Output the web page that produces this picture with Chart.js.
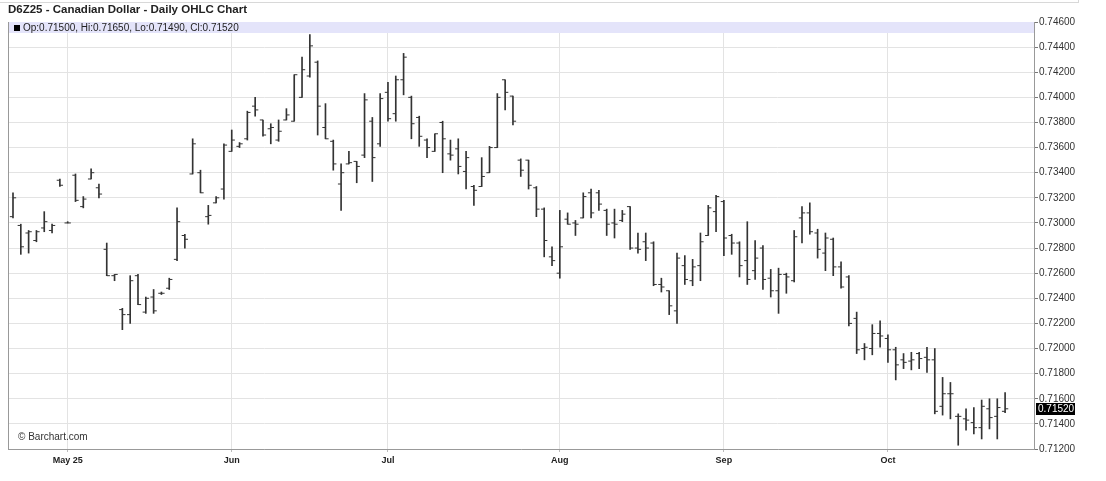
<!DOCTYPE html>
<html>
<head>
<meta charset="utf-8">
<script src="https://cdn.jsdelivr.net/npm/chart.js@4.4.1/dist/chart.umd.min.js"></script>
<style>
  html, body { margin: 0; padding: 0; background: #fff; }
  #wrap { position: relative; width: 1106px; height: 481px; font-family: Arial, "Liberation Sans", sans-serif; }
  #frame { position: absolute; left: 0; top: 0; width: 1078px; height: 2px; border-bottom: 1px solid #d8d8d8; border-right: 1px solid #d8d8d8; }
  #title { position: absolute; left: 8px; top: 3px; font-weight: bold; font-size: 11.5px; color: #222; }
  #credit { position: absolute; left: 18px; top: 431px; font-size: 10px; color: #333; }
  canvas { position: absolute; left: 0; top: 0; }
</style>
</head>
<body>
<div id="wrap">
  <canvas id="chart" width="1106" height="481"></canvas>
  <div id="frame"></div>
  <div id="title">D6Z25 - Canadian Dollar - Daily OHLC Chart</div>
  <div id="credit">© Barchart.com</div>
</div>
<script>
// daily bars, Apr 22 .. Oct 22 (trading days only)
const opens = [
  0.7305, 0.7298, 0.7292, 0.7286, 0.7296, 0.7294, 0.7334, 0.7300, 0.7338, 0.7313,
  0.7335, 0.7328, 0.7279, 0.7258, 0.7231, 0.7227, 0.7258, 0.7229, 0.7241, 0.7244,
  0.7248, 0.7271, 0.7290, 0.7339, 0.7340, 0.7305, 0.7316, 0.7327, 0.7357, 0.7361,
  0.7367, 0.7393, 0.7382, 0.7375, 0.7366, 0.7382, 0.7381, 0.7400, 0.7417, 0.7428,
  0.7376, 0.7365, 0.7331, 0.7347, 0.7349, 0.7354, 0.7381, 0.7363, 0.7404, 0.7387,
  0.7414, 0.7400, 0.7384, 0.7366, 0.7357, 0.7380, 0.7355, 0.7359, 0.7341, 0.7329,
  0.7329, 0.7340, 0.7360, 0.7414, 0.7401, 0.7350, 0.7350, 0.7328, 0.7311, 0.7273,
  0.7260, 0.7303, 0.7300, 0.7304, 0.7324, 0.7324, 0.7310, 0.7300, 0.7302, 0.7313,
  0.7280, 0.7285, 0.7284, 0.7251, 0.7246, 0.7230, 0.7266, 0.7254, 0.7266, 0.7290,
  0.7309, 0.7317, 0.7290, 0.7284, 0.7270, 0.7262, 0.7280, 0.7256, 0.7246, 0.7259,
  0.7254, 0.7304, 0.7308, 0.7292, 0.7276, 0.7287, 0.7265, 0.7257, 0.7224, 0.7200,
  0.7200, 0.7212, 0.7208, 0.7199, 0.7191, 0.7190, 0.7196, 0.7193, 0.7191, 0.7154,
  0.7164, 0.7146, 0.7144, 0.7141, 0.7137, 0.7152, 0.7146, 0.7150
];
const highs = [
  0.7324, 0.7299, 0.7294, 0.7294, 0.7309, 0.7299, 0.7335, 0.7301, 0.7339, 0.7321,
  0.7343, 0.7331, 0.7284, 0.7259, 0.7232, 0.7258, 0.7259, 0.7241, 0.7247, 0.7245,
  0.7256, 0.7312, 0.7291, 0.7367, 0.7342, 0.7314, 0.7321, 0.7363, 0.7374, 0.7364,
  0.7389, 0.7400, 0.7382, 0.7379, 0.7382, 0.7391, 0.7418, 0.7432, 0.7450, 0.7429,
  0.7395, 0.7366, 0.7347, 0.7357, 0.7349, 0.7403, 0.7384, 0.7403, 0.7412, 0.7417,
  0.7435, 0.7401, 0.7385, 0.7367, 0.7371, 0.7381, 0.7366, 0.7367, 0.7357, 0.7330,
  0.7352, 0.7361, 0.7403, 0.7414, 0.7401, 0.7351, 0.7350, 0.7329, 0.7312, 0.7281,
  0.7310, 0.7308, 0.7302, 0.7324, 0.7327, 0.7326, 0.7311, 0.7311, 0.7310, 0.7313,
  0.7292, 0.7292, 0.7285, 0.7256, 0.7246, 0.7276, 0.7274, 0.7271, 0.7292, 0.7314,
  0.7322, 0.7318, 0.7291, 0.7285, 0.7301, 0.7286, 0.7282, 0.7263, 0.7264, 0.7260,
  0.7294, 0.7313, 0.7316, 0.7295, 0.7292, 0.7288, 0.7269, 0.7258, 0.7229, 0.7204,
  0.7219, 0.7222, 0.7211, 0.7201, 0.7196, 0.7197, 0.7197, 0.7201, 0.7200, 0.7177,
  0.7173, 0.7148, 0.7152, 0.7153, 0.7159, 0.7160, 0.7160, 0.7165
];
const lows = [
  0.7304, 0.7275, 0.7276, 0.7285, 0.7293, 0.7292, 0.7329, 0.7300, 0.7317, 0.7312,
  0.7335, 0.7320, 0.7258, 0.7254, 0.7215, 0.7220, 0.7235, 0.7228, 0.7228, 0.7243,
  0.7247, 0.7270, 0.7280, 0.7339, 0.7324, 0.7299, 0.7316, 0.7319, 0.7357, 0.7360,
  0.7366, 0.7385, 0.7369, 0.7363, 0.7365, 0.7382, 0.7381, 0.7400, 0.7416, 0.7370,
  0.7367, 0.7342, 0.7310, 0.7347, 0.7332, 0.7352, 0.7333, 0.7361, 0.7381, 0.7381,
  0.7402, 0.7367, 0.7361, 0.7352, 0.7357, 0.7340, 0.7350, 0.7339, 0.7327, 0.7314,
  0.7329, 0.7340, 0.7360, 0.7390, 0.7378, 0.7337, 0.7327, 0.7305, 0.7273, 0.7266,
  0.7256, 0.7299, 0.7290, 0.7304, 0.7304, 0.7310, 0.7290, 0.7288, 0.7301, 0.7279,
  0.7276, 0.7270, 0.7250, 0.7245, 0.7227, 0.7220, 0.7251, 0.7250, 0.7254, 0.7290,
  0.7293, 0.7274, 0.7275, 0.7257, 0.7251, 0.7255, 0.7247, 0.7241, 0.7228, 0.7244,
  0.7253, 0.7284, 0.7291, 0.7272, 0.7262, 0.7258, 0.7248, 0.7218, 0.7196, 0.7191,
  0.7195, 0.7201, 0.7189, 0.7175, 0.7184, 0.7183, 0.7184, 0.7181, 0.7148, 0.7147,
  0.7144, 0.7123, 0.7135, 0.7132, 0.7128, 0.7136, 0.7128, 0.7149
];
const closes = [
  0.7320, 0.7281, 0.7293, 0.7293, 0.7301, 0.7298, 0.7330, 0.7300, 0.7318, 0.7319,
  0.7340, 0.7323, 0.7258, 0.7259, 0.7227, 0.7254, 0.7235, 0.7240, 0.7230, 0.7244,
  0.7255, 0.7301, 0.7287, 0.7363, 0.7324, 0.7306, 0.7320, 0.7362, 0.7366, 0.7363,
  0.7388, 0.7390, 0.7370, 0.7376, 0.7373, 0.7386, 0.7418, 0.7422, 0.7441, 0.7393,
  0.7367, 0.7347, 0.7340, 0.7348, 0.7345, 0.7398, 0.7352, 0.7399, 0.7383, 0.7414,
  0.7432, 0.7379, 0.7369, 0.7360, 0.7371, 0.7367, 0.7354, 0.7345, 0.7352, 0.7326,
  0.7337, 0.7360, 0.7400, 0.7404, 0.7381, 0.7342, 0.7330, 0.7311, 0.7286, 0.7270,
  0.7281, 0.7299, 0.7299, 0.7321, 0.7308, 0.7315, 0.7299, 0.7299, 0.7307, 0.7280,
  0.7279, 0.7280, 0.7251, 0.7249, 0.7234, 0.7272, 0.7255, 0.7265, 0.7285, 0.7312,
  0.7321, 0.7288, 0.7284, 0.7266, 0.7255, 0.7272, 0.7255, 0.7246, 0.7259, 0.7257,
  0.7289, 0.7308, 0.7293, 0.7279, 0.7288, 0.7265, 0.7249, 0.7220, 0.7199, 0.7201,
  0.7212, 0.7210, 0.7199, 0.7187, 0.7189, 0.7191, 0.7192, 0.7191, 0.7150, 0.7164,
  0.7164, 0.7146, 0.7143, 0.7137, 0.7154, 0.7145, 0.7153, 0.7152
];

// first trading day of each month (bar index) and its label
const monthIdx = [7, 28, 48, 70, 91, 112];
const monthLabels = ["May 25", "Jun", "Jul", "Aug", "Sep", "Oct"];

const yMin = 0.712, yMax = 0.746, yStep = 0.002;

const barColor = '#333';
const last = closes.length - 1;

// header band, left border and last price box
const chrome = {
  id: 'chrome',
  beforeDatasetsDraw(chart) {
    const { ctx, chartArea: a } = chart;
    ctx.save();
    ctx.fillStyle = '#e4e4fa';
    ctx.fillRect(a.left + 1, a.top, a.right - a.left - 1, 11);
    ctx.fillStyle = '#000';
    ctx.fillRect(a.left + 6, a.top + 3, 6, 6);
    ctx.fillStyle = '#222';
    ctx.font = '10px Arial, "Liberation Sans", sans-serif';
    ctx.textBaseline = 'middle';
    const txt = 'Op:' + opens[last].toFixed(5) + ', Hi:' + highs[last].toFixed(5) +
      ', Lo:' + lows[last].toFixed(5) + ', Cl:' + closes[last].toFixed(5);
    ctx.fillText(txt, a.left + 15, a.top + 6);
    ctx.restore();
  },
  afterDraw(chart) {
    const { ctx, chartArea: a, scales } = chart;
    ctx.save();
    ctx.strokeStyle = '#999';
    ctx.lineWidth = 1;
    ctx.beginPath();
    ctx.moveTo(a.left + 0.5, a.top);
    ctx.lineTo(a.left + 0.5, a.bottom);
    ctx.stroke();
    const y = scales.y.getPixelForValue(closes[last]);
    ctx.fillStyle = '#000';
    ctx.fillRect(a.right + 2, Math.round(y) - 6, 39, 12);
    ctx.fillStyle = '#fff';
    ctx.font = '10px Arial, "Liberation Sans", sans-serif';
    ctx.textBaseline = 'middle';
    ctx.fillText(closes[last].toFixed(5), a.right + 4, Math.round(y) + 0.5);
    ctx.restore();
  }
};

const idx = closes.map((c, i) => i);

new Chart(document.getElementById('chart'), {
  type: 'bar',
  data: {
    datasets: [
      {
        type: 'bar',
        data: idx.map(i => ({ x: i, y: [lows[i], highs[i]] })),
        backgroundColor: barColor,
        barThickness: 1,
        minBarLength: 1,
        borderWidth: 0
      },
      {
        type: 'scatter',
        data: idx.map(i => ({ x: i - 0.2, y: opens[i] })),
        pointStyle: 'line',
        pointRadius: 1.6,
        pointBorderWidth: 1,
        borderColor: barColor,
        backgroundColor: barColor
      },
      {
        type: 'scatter',
        data: idx.map(i => ({ x: i + 0.2, y: closes[i] })),
        pointStyle: 'line',
        pointRadius: 1.6,
        pointBorderWidth: 1,
        borderColor: barColor,
        backgroundColor: barColor
      }
    ]
  },
  options: {
    responsive: false,
    animation: false,
    layout: { padding: { left: 8, top: 22, right: 0, bottom: 0 } },
    plugins: { legend: { display: false }, tooltip: { enabled: false } },
    scales: {
      x: {
        type: 'linear',
        min: -0.64,
        max: 130.7,
        offset: false,
        afterBuildTicks: ax => { ax.ticks = monthIdx.map(v => ({ value: v })); },
        afterFit: ax => { ax.height = 32; },
        grid: { color: '#e3e3e3', offset: false, tickLength: 3, tickColor: '#bbb' },
        border: { display: true, color: '#999' },
        ticks: {
          autoSkip: false,
          maxRotation: 0,
          padding: 3,
          color: '#222',
          font: { family: 'Arial, "Liberation Sans", sans-serif', size: 9, weight: 'bold' },
          callback: v => monthLabels[monthIdx.indexOf(v)]
        }
      },
      y: {
        position: 'right',
        min: yMin,
        max: yMax,
        afterFit: ax => { ax.width = 72; },
        grid: { color: '#e3e3e3', tickLength: 4, tickColor: '#777' },
        border: { display: true, color: '#999' },
        ticks: {
          stepSize: yStep,
          padding: 1,
          color: '#333',
          font: { family: 'Arial, "Liberation Sans", sans-serif', size: 10 },
          callback: v => v.toFixed(5)
        }
      }
    }
  },
  plugins: [chrome]
});
</script>
</body>
</html>
